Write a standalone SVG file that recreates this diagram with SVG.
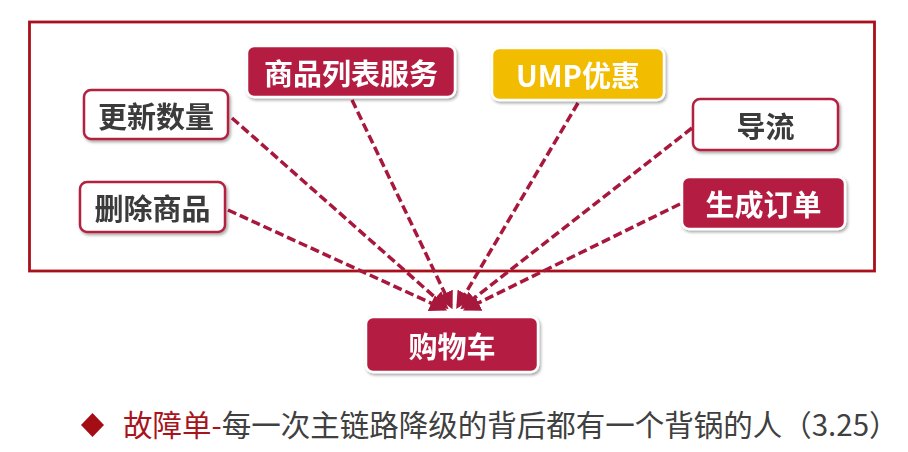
<svg xmlns="http://www.w3.org/2000/svg" width="908" height="452" viewBox="0 0 908 452">
<defs>
<style>
.lbl{font-family:"Noto Sans CJK SC","Liberation Sans",sans-serif;font-weight:700;font-size:29px;text-anchor:middle;dominant-baseline:central}
.dark{fill:#3a3a3a}
.light{fill:#ffffff}
.wbox{fill:#ffffff;stroke:#b2203f;stroke-width:2.5}
.rbox{fill:#b41e42;stroke:#ffffff;stroke-width:2.5}
.ybox{fill:#f2bd00;stroke:#ffffff;stroke-width:2.5}
.conn{fill:none;stroke:#a8183c;stroke-width:3.5;stroke-dasharray:9 4}
.foot{font-family:"Noto Sans CJK SC","Liberation Sans",sans-serif;font-size:29.5px}
</style>
<filter id="sh" x="-20%" y="-30%" width="140%" height="160%">
<feDropShadow dx="1.5" dy="2" stdDeviation="1.8" flood-color="#000" flood-opacity="0.35"/>
</filter>
<marker id="ah" markerWidth="5" markerHeight="5" refX="4" refY="2.5" orient="auto" markerUnits="strokeWidth">
<path d="M0,0 L5,2.5 L0,5 Z" fill="#a8183c"/>
</marker>
</defs>
<rect width="908" height="452" fill="#ffffff"/>
<rect id="frame" x="29.5" y="22" width="845" height="249" fill="none" stroke="#a8101b" stroke-width="2.8"/>
<g id="connectors">
<line class="conn" x1="232" y1="118" x2="446" y2="307" marker-end="url(#ah)"/>
<line class="conn" x1="228" y1="210" x2="444" y2="309" marker-end="url(#ah)"/>
<line class="conn" x1="352" y1="100" x2="451" y2="306" marker-end="url(#ah)"/>
<line class="conn" x1="578" y1="103" x2="458" y2="306" marker-end="url(#ah)"/>
<line class="conn" x1="692" y1="128" x2="463" y2="307" marker-end="url(#ah)"/>
<line class="conn" x1="680" y1="204" x2="466" y2="309" marker-end="url(#ah)"/>
</g>
<g id="n-update" filter="url(#sh)">
<rect class="wbox" x="84" y="90" width="144" height="49" rx="7"/>
<text class="lbl dark" x="156" y="115">更新数量</text>
</g>
<g id="n-delete" filter="url(#sh)">
<rect class="wbox" x="80" y="182" width="145" height="50" rx="7"/>
<text class="lbl dark" x="152.5" y="207">删除商品</text>
</g>
<g id="n-list" filter="url(#sh)">
<rect class="rbox" x="247" y="46" width="208" height="51" rx="7"/>
<text class="lbl light" x="351" y="71.5">商品列表服务</text>
</g>
<g id="n-ump" filter="url(#sh)">
<rect class="ybox" x="492" y="48" width="172" height="52" rx="7"/>
<text class="lbl light" x="578" y="74">UMP优惠</text>
</g>
<g id="n-guide" filter="url(#sh)">
<rect class="wbox" x="693" y="99" width="145" height="51" rx="7"/>
<text class="lbl dark" x="765.5" y="124.5">导流</text>
</g>
<g id="n-order" filter="url(#sh)">
<rect class="rbox" x="682" y="177" width="163" height="52" rx="7"/>
<text class="lbl light" x="763.5" y="203">生成订单</text>
</g>
<g id="n-cart" filter="url(#sh)">
<rect class="rbox" x="366" y="317" width="172" height="55" rx="7"/>
<text class="lbl light" x="452" y="344.5">购物车</text>
</g>
<g id="footnote">
<path d="M92.5,413 L104,425 L92.5,437 L81,425 Z" fill="#a50d14"/>
<text class="foot" x="123" y="435.5"><tspan fill="#a8141b">故障单-</tspan><tspan fill="#404040">每一次主链路降级的背后都有一个背锅的人（3.25）</tspan></text>
</g>
</svg>
